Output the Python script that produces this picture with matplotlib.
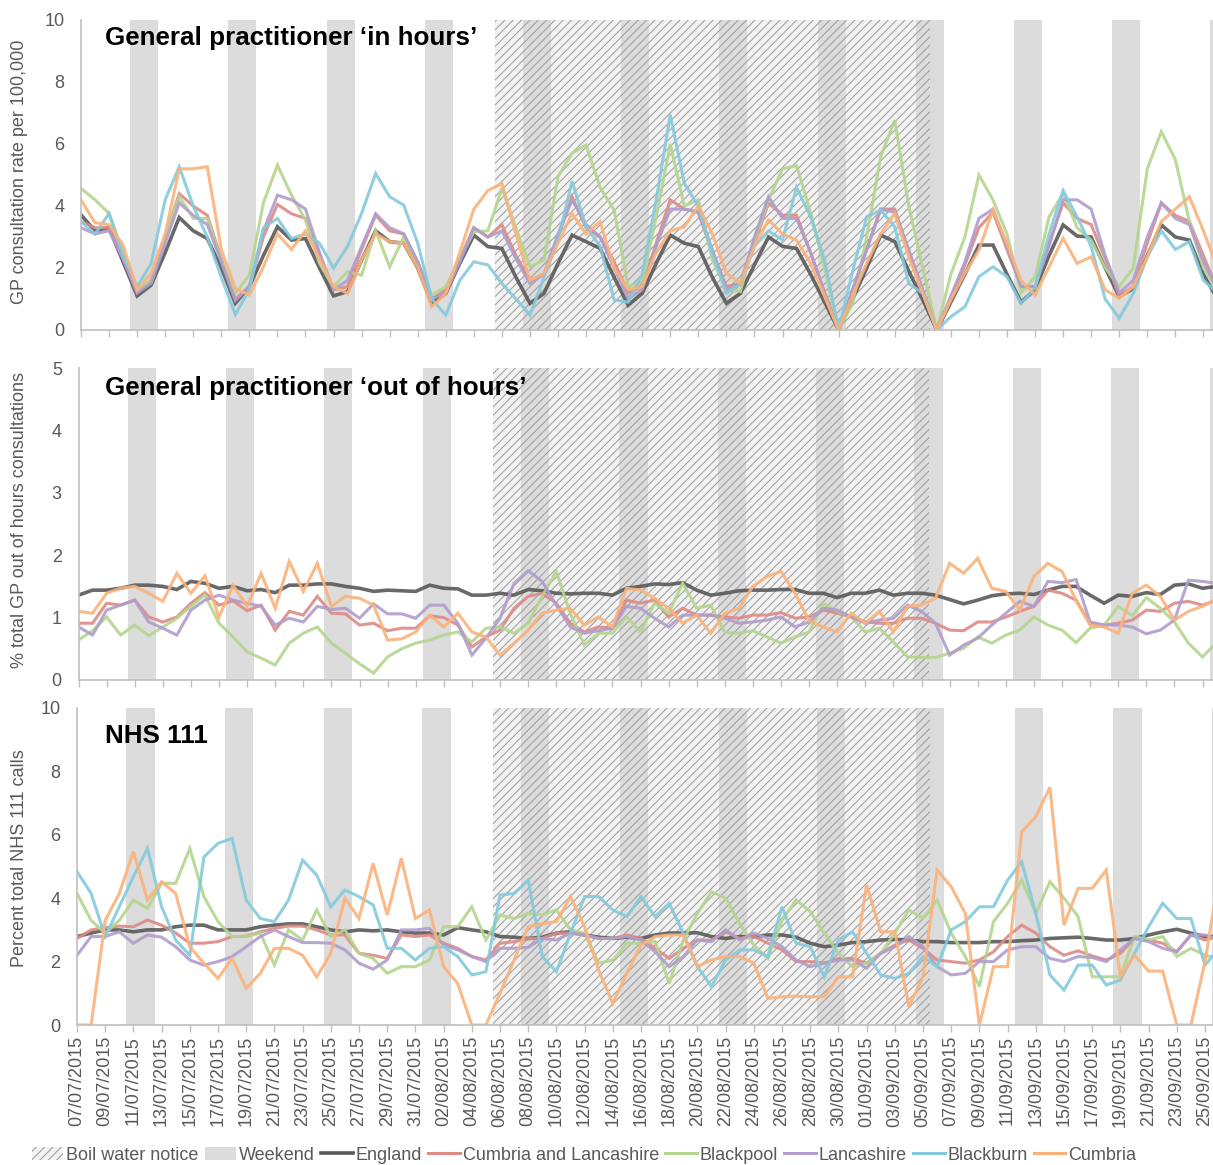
import matplotlib
matplotlib.use('Agg')
import matplotlib.pyplot as plt
from matplotlib.patches import Patch
from matplotlib.lines import Line2D
import numpy as np
import pandas as pd

plt.rcParams['font.family'] = ['Liberation Sans', 'DejaVu Sans']
plt.rcParams['hatch.linewidth'] = 0.75

# ---------------- data ----------------
dates = pd.date_range('2015-07-07', '2015-09-26', freq='D')
date_labels = [d.strftime('%d/%m/%Y') for d in dates]
boil_start = '2015-08-06'
boil_end = '2015-09-05'

series_names = ['England', 'Cumbria and Lancashire', 'Blackpool', 'Lancashire', 'Blackburn', 'Cumbria']
series_colors = ['#595959', '#DE8A85', '#B4D58E', '#B09DCC', '#84CADC', '#FBB27A']

# Panel 1: GP in hours (rate per 100,000)
gp_in_england = [3.71, 3.2, 3.3, 2.2, 1.1, 1.45, 2.5, 3.63, 3.2, 2.95, 2.0, 0.86, 1.4, 2.4, 3.33, 2.9, 2.95, 2.0, 1.1, 1.24,
                 2.25, 3.2, 2.85, 2.8, 2.0, 0.86, 1.18, 2.15, 3.06, 2.69, 2.63, 1.7, 0.86, 1.18, 2.15, 3.06, 2.85, 2.63, 1.7, 0.8,
                 1.18, 2.15, 3.06, 2.8, 2.69, 1.7, 0.86, 1.18, 2.1, 3.0, 2.7, 2.63, 1.8, 0.9, 0.0, 1.0, 2.0, 3.06, 2.85, 1.9,
                 0.97, 0.0, 0.9, 1.8, 2.74, 2.74, 1.8, 0.9, 1.3, 2.4, 3.39, 3.03, 3.0, 2.0, 1.08, 1.34, 2.4, 3.39, 3.0, 2.9,
                 1.8, 1.0]
gp_in_cumbria_lancs = [3.5, 3.3, 3.3, 2.3, 1.2, 1.6, 3.0, 4.4, 4.0, 3.7, 2.3, 1.0, 1.4, 3.0, 4.05, 3.75, 3.6, 2.4, 1.3, 1.4,
                       2.6, 3.7, 3.2, 3.1, 2.2, 1.0, 1.3, 2.3, 3.3, 3.0, 3.4, 2.4, 1.6, 1.8, 3.0, 4.3, 3.3, 3.0, 2.2, 1.2,
                       1.4, 2.8, 4.2, 3.9, 3.8, 2.5, 1.4, 1.5, 2.8, 4.1, 3.7, 3.7, 2.5, 1.2, 0.0, 1.3, 2.6, 3.9, 3.9, 2.5,
                       1.2, 0.0, 1.0, 2.1, 3.3, 3.8, 2.6, 1.4, 1.4, 2.8, 4.1, 3.6, 3.4, 2.3, 1.1, 1.4, 2.8, 4.1, 3.7, 3.5,
                       2.4, 1.3]
gp_in_blackpool = [4.57, 4.2, 3.76, 2.5, 1.3, 1.6, 3.0, 4.3, 3.6, 3.6, 2.25, 1.18, 1.77, 4.1, 5.32, 4.35, 3.55, 2.15, 1.4, 1.88,
                   1.77, 3.2, 2.04, 3.0, 2.15, 1.13, 1.4, 2.3, 3.17, 3.2, 4.57, 3.3, 2.04, 2.26, 4.95, 5.7, 5.97, 4.6, 3.87, 1.4,
                   1.56, 3.65, 6.0, 4.0, 4.2, 2.26, 1.3, 1.24, 2.9, 4.2, 5.2, 5.3, 3.8, 2.0, 0.0, 0.86, 3.0, 5.6, 6.77, 4.0,
                   2.0, 0.0, 1.8, 3.0, 5.0, 4.2, 3.1, 1.2, 1.7, 3.65, 4.4, 3.3, 2.9, 2.0, 1.4, 2.0, 5.2, 6.4, 5.5, 3.5,
                   2.0, 1.3]
gp_in_lancashire = [3.3, 3.1, 3.2, 2.3, 1.2, 1.5, 2.8, 4.1, 3.7, 3.4, 2.2, 0.95, 1.4, 3.2, 4.35, 4.2, 3.9, 2.5, 1.3, 1.6,
                    2.7, 3.75, 3.3, 3.1, 2.2, 1.0, 1.2, 2.2, 3.3, 3.0, 3.2, 2.3, 1.5, 1.8, 3.1, 4.2, 3.4, 3.0, 2.0, 1.0,
                    1.3, 2.7, 3.9, 3.9, 3.8, 2.6, 1.3, 1.5, 3.0, 4.3, 3.6, 3.6, 2.5, 1.2, 0.0, 1.3, 2.6, 3.9, 3.8, 2.6,
                    1.3, 0.0, 1.1, 2.2, 3.6, 3.9, 2.7, 1.4, 1.4, 2.7, 4.2, 4.2, 3.9, 2.4, 1.2, 1.6, 3.0, 4.1, 3.6, 3.4,
                    2.2, 1.3]
gp_in_blackburn = [3.5, 3.1, 3.76, 2.4, 1.4, 2.15, 4.2, 5.27, 4.0, 3.0, 1.7, 0.5, 1.3, 3.3, 3.6, 2.95, 3.1, 2.8, 2.0, 2.7,
                   3.76, 5.05, 4.3, 4.03, 2.8, 1.0, 0.48, 1.6, 2.2, 2.1, 1.5, 1.0, 0.48, 1.7, 2.9, 4.8, 3.33, 2.7, 0.97, 0.9,
                   1.8, 4.2, 6.94, 4.73, 4.0, 2.47, 1.18, 1.5, 2.7, 3.2, 2.9, 4.6, 3.65, 2.26, 0.0, 1.9, 3.65, 3.87, 3.33, 1.5,
                   1.18, 0.0, 0.43, 0.75, 1.72, 2.04, 1.72, 0.86, 1.34, 3.1, 4.5, 3.65, 2.7, 1.0, 0.38, 1.18, 2.36, 3.2, 2.6, 2.85,
                   1.6, 1.2]
gp_in_cumbria = [4.2, 3.46, 3.4, 2.74, 1.3, 1.83, 3.1, 5.2, 5.2, 5.27, 2.6, 1.34, 1.13, 2.04, 3.1, 2.6, 3.2, 2.3, 1.4, 1.18,
                 2.26, 3.1, 2.85, 2.8, 2.0, 0.75, 1.18, 2.5, 3.9, 4.5, 4.73, 3.1, 1.6, 1.83, 2.8, 3.76, 3.1, 3.5, 2.0, 1.3,
                 1.4, 2.5, 3.2, 3.33, 4.0, 3.1, 1.83, 1.5, 2.7, 3.55, 3.1, 2.9, 2.15, 1.08, 0.0, 1.1, 2.15, 3.1, 3.76, 2.36,
                 1.18, 0.0, 0.97, 1.83, 2.58, 3.87, 2.8, 1.6, 1.13, 2.04, 2.96, 2.15, 2.36, 1.3, 1.02, 1.4, 2.36, 3.5, 3.9, 4.3,
                 3.2, 2.0]

# Panel 2: GP out of hours (% of consultations) - no Blackburn series
gp_ooh_england = [1.36, 1.44, 1.44, 1.47, 1.52, 1.52, 1.5, 1.45, 1.58, 1.55, 1.47, 1.5, 1.43, 1.45, 1.4, 1.52, 1.52, 1.54, 1.54, 1.5,
                  1.47, 1.42, 1.44, 1.43, 1.42, 1.52, 1.47, 1.46, 1.36, 1.36, 1.39, 1.36, 1.45, 1.43, 1.39, 1.38, 1.39, 1.39, 1.36, 1.47,
                  1.5, 1.54, 1.53, 1.56, 1.44, 1.36, 1.39, 1.43, 1.44, 1.44, 1.45, 1.45, 1.39, 1.39, 1.32, 1.39, 1.39, 1.44, 1.36, 1.39,
                  1.39, 1.36, 1.29, 1.22, 1.28, 1.35, 1.38, 1.39, 1.37, 1.44, 1.5, 1.5, 1.36, 1.23, 1.36, 1.34, 1.4, 1.37, 1.52, 1.54,
                  1.47, 1.5]
gp_ooh_cumbria_lancs = [0.91, 0.91, 1.23, 1.2, 1.28, 1.01, 0.93, 1.01, 1.23, 1.4, 1.2, 1.27, 1.11, 1.2, 0.8, 1.1, 1.04, 1.34, 1.07, 1.06,
                        0.88, 0.91, 0.79, 0.83, 0.83, 1.03, 1.0, 0.88, 0.53, 0.69, 0.8, 1.15, 1.34, 1.39, 1.23, 0.91, 0.77, 0.85, 0.83, 1.28,
                        1.23, 1.28, 1.01, 1.15, 1.04, 1.04, 1.01, 0.99, 1.04, 1.04, 1.08, 0.99, 1.01, 1.12, 1.07, 1.01, 0.93, 0.91, 0.91, 0.99,
                        0.99, 0.91, 0.8, 0.79, 0.93, 0.93, 1.01, 1.1, 1.18, 1.44, 1.39, 1.28, 0.91, 0.88, 0.91, 0.96, 1.12, 1.1, 1.23, 1.26,
                        1.2, 1.28]
gp_ooh_blackpool = [0.64, 0.79, 1.01, 0.72, 0.88, 0.71, 0.85, 0.99, 1.18, 1.36, 0.91, 0.69, 0.45, 0.35, 0.24, 0.59, 0.75, 0.85, 0.59, 0.43,
                    0.26, 0.11, 0.37, 0.5, 0.59, 0.64, 0.72, 0.77, 0.61, 0.83, 0.85, 0.75, 0.91, 1.34, 1.74, 1.07, 0.56, 0.75, 0.75, 1.01,
                    0.77, 1.23, 1.07, 1.55, 1.15, 1.2, 0.76, 0.75, 0.79, 0.69, 0.59, 0.69, 0.77, 1.23, 1.1, 1.01, 0.77, 0.83, 0.61, 0.37,
                    0.36, 0.36, 0.43, 0.51, 0.69, 0.59, 0.72, 0.8, 1.01, 0.88, 0.8, 0.6, 0.83, 0.88, 1.18, 1.03, 1.32, 1.15, 0.93, 0.59,
                    0.37, 0.6]
gp_ooh_lancashire = [0.85, 0.72, 1.12, 1.2, 1.28, 0.93, 0.83, 0.72, 1.12, 1.28, 1.36, 1.28, 1.23, 1.18, 0.88, 0.99, 0.93, 1.18, 1.13, 1.15,
                     0.99, 1.22, 1.06, 1.06, 0.99, 1.2, 1.2, 0.91, 0.4, 0.67, 0.99, 1.55, 1.75, 1.58, 1.2, 0.85, 0.75, 0.79, 0.83, 1.18,
                     1.15, 0.99, 0.85, 1.04, 1.04, 1.04, 0.99, 0.91, 0.93, 0.96, 1.01, 0.85, 0.93, 1.15, 1.12, 1.01, 0.91, 0.96, 0.99, 1.2,
                     1.1, 0.91, 0.4, 0.56, 0.67, 0.88, 1.07, 1.26, 1.18, 1.58, 1.56, 1.61, 0.93, 0.88, 0.88, 0.85, 0.74, 0.8, 0.96, 1.6,
                     1.58, 1.55]
gp_ooh_cumbria = [1.1, 1.07, 1.39, 1.47, 1.5, 1.39, 1.26, 1.71, 1.39, 1.67, 1.01, 1.52, 1.18, 1.71, 1.15, 1.9, 1.42, 1.87, 1.18, 1.34,
                  1.31, 1.2, 0.64, 0.66, 0.77, 1.04, 0.85, 1.07, 0.77, 0.69, 0.4, 0.59, 0.8, 1.07, 1.12, 1.15, 0.88, 1.01, 0.85, 1.47,
                  1.44, 1.31, 1.15, 0.91, 1.04, 0.75, 1.07, 1.15, 1.5, 1.66, 1.74, 1.39, 0.95, 0.85, 0.77, 1.07, 0.91, 1.1, 0.77, 1.18,
                  1.2, 1.31, 1.87, 1.71, 1.95, 1.47, 1.42, 1.12, 1.66, 1.87, 1.74, 1.28, 0.88, 0.85, 0.75, 1.39, 1.52, 1.34, 0.96, 1.1,
                  1.18, 1.3]

# Panel 3: NHS 111 (% of calls)
nhs_england = [2.79, 2.9, 3.0, 3.0, 2.94, 3.0, 3.0, 3.1, 3.15, 3.15, 3.0, 3.0, 3.0, 3.1, 3.15, 3.19, 3.19, 3.1, 3.0, 2.94,
               3.0, 2.97, 3.0, 2.94, 2.9, 2.9, 2.84, 3.07, 3.0, 2.94, 2.79, 2.77, 2.73, 2.77, 2.9, 2.94, 2.84, 2.77, 2.73, 2.77,
               2.73, 2.84, 2.9, 2.9, 2.91, 2.79, 2.73, 2.79, 2.79, 2.84, 2.84, 2.77, 2.58, 2.47, 2.52, 2.6, 2.63, 2.68, 2.7, 2.68,
               2.63, 2.63, 2.6, 2.6, 2.6, 2.63, 2.63, 2.66, 2.68, 2.73, 2.75, 2.77, 2.73, 2.68, 2.68, 2.73, 2.84, 2.94, 3.02, 2.9,
               2.79, 2.8]
nhs_cumbria_lancs = [2.73, 3.0, 3.07, 3.12, 3.1, 3.31, 3.15, 2.9, 2.58, 2.58, 2.63, 2.79, 2.8, 2.94, 3.05, 3.12, 3.12, 3.0, 2.84, 2.84,
                     2.26, 2.2, 2.1, 2.84, 2.79, 2.84, 2.58, 2.42, 2.16, 2.05, 2.58, 2.63, 2.73, 2.73, 2.9, 2.9, 2.84, 2.73, 2.73, 2.84,
                     2.73, 2.42, 2.1, 2.42, 2.68, 2.68, 2.94, 2.73, 2.79, 2.58, 2.37, 2.0, 2.0, 1.95, 2.1, 2.1, 1.95, 2.26, 2.52, 2.68,
                     2.42, 2.05, 2.0, 1.95, 2.05, 2.31, 2.79, 3.15, 2.9, 2.47, 2.2, 2.34, 2.18, 2.05, 2.26, 2.73, 2.68, 2.58, 2.31, 2.84,
                     2.68, 2.8]
nhs_blackpool = [4.15, 3.3, 2.9, 3.3, 3.94, 3.68, 4.47, 4.47, 5.57, 4.05, 3.26, 2.79, 2.79, 2.9, 1.89, 3.0, 2.68, 3.63, 2.79, 3.0,
                 2.26, 2.1, 1.63, 1.84, 1.84, 2.05, 3.1, 3.1, 3.73, 2.68, 3.47, 3.36, 3.52, 3.47, 3.63, 3.0, 2.89, 1.95, 2.05, 2.58,
                 2.58, 2.63, 1.31, 2.68, 3.52, 4.2, 4.0, 3.2, 2.52, 2.1, 3.3, 3.94, 3.58, 2.9, 2.26, 1.84, 1.95, 2.26, 2.9, 3.63,
                 3.36, 3.94, 2.9, 2.16, 1.21, 3.26, 3.84, 4.57, 3.52, 4.52, 4.0, 3.42, 1.52, 1.52, 1.52, 2.79, 2.68, 2.79, 2.16, 2.42,
                 2.2, 2.1]
nhs_lancashire = [2.2, 2.79, 2.79, 2.94, 2.58, 2.84, 2.77, 2.47, 2.05, 1.89, 2.0, 2.16, 2.47, 2.79, 3.0, 2.79, 2.6, 2.6, 2.58, 2.37,
                  1.95, 1.76, 2.05, 3.0, 3.0, 3.05, 2.52, 2.37, 2.16, 2.0, 2.42, 2.42, 2.45, 2.73, 2.68, 2.9, 2.84, 2.73, 2.73, 2.79,
                  2.68, 2.31, 1.84, 2.16, 2.68, 2.63, 3.0, 2.68, 2.9, 2.73, 2.47, 2.05, 1.84, 1.95, 2.05, 2.05, 1.79, 2.26, 2.47, 2.79,
                  2.47, 1.84, 1.58, 1.63, 2.0, 2.0, 2.37, 2.47, 2.47, 2.1, 2.0, 2.16, 2.13, 2.0, 2.37, 2.73, 2.63, 2.42, 2.31, 2.84,
                  2.84, 2.7]
nhs_blackburn = [4.84, 4.15, 2.79, 3.73, 4.68, 5.57, 3.73, 2.68, 2.2, 5.3, 5.73, 5.89, 3.94, 3.36, 3.26, 3.94, 5.2, 4.73, 3.73, 4.26,
                 4.05, 3.79, 2.42, 2.42, 2.05, 2.42, 2.47, 2.16, 1.58, 1.68, 4.1, 4.15, 4.57, 2.16, 1.68, 2.89, 4.05, 4.05, 3.63, 3.42,
                 4.05, 3.42, 3.84, 2.89, 1.84, 1.21, 2.05, 2.37, 2.37, 2.16, 3.73, 2.58, 2.47, 1.52, 2.68, 2.94, 2.26, 1.58, 1.47, 1.63,
                 2.16, 1.84, 3.0, 3.26, 3.73, 3.73, 4.57, 5.15, 3.52, 1.58, 1.1, 1.89, 1.89, 1.26, 1.42, 2.26, 3.1, 3.84, 3.36, 3.36,
                 1.89, 2.4]
nhs_cumbria = [0.0, 0.0, 3.3, 4.15, 5.47, 3.94, 4.52, 4.15, 2.47, 1.95, 1.47, 2.1, 1.16, 1.63, 2.42, 2.42, 2.2, 1.52, 2.26, 4.0,
               3.36, 5.1, 3.47, 5.26, 3.36, 3.63, 1.84, 1.31, 0.0, 0.0, 1.0, 2.05, 3.1, 3.2, 3.26, 4.05, 3.1, 1.73, 0.68, 1.63,
               2.52, 2.79, 2.84, 2.84, 1.84, 2.05, 2.16, 2.16, 1.95, 0.84, 0.89, 0.91, 0.89, 0.89, 1.52, 1.52, 4.42, 2.94, 2.94, 0.58,
               1.52, 4.89, 4.36, 3.52, 0.0, 1.84, 1.84, 6.1, 6.57, 7.5, 3.15, 4.31, 4.31, 4.89, 1.52, 2.2, 1.7, 1.7, 0.0, 0.0,
               2.0, 4.7]

panels = [
    dict(title='General practitioner \u2018in hours\u2019', ylabel='GP consultation rate per 100,000',
         ymax=10, ystep=2, series=[gp_in_england, gp_in_cumbria_lancs, gp_in_blackpool, gp_in_lancashire, gp_in_blackburn, gp_in_cumbria],
         left=81, top=20, bottom=330, spacing=14.03, title_y=38, ylab_y=172),
    dict(title='General practitioner \u2018out of hours\u2019', ylabel='% total GP out of hours consultations',
         ymax=5, ystep=1, series=[gp_ooh_england, gp_ooh_cumbria_lancs, gp_ooh_blackpool, gp_ooh_lancashire, None, gp_ooh_cumbria],
         left=78.5, top=368, bottom=680, spacing=14.05, title_y=388, ylab_y=520),
    dict(title='NHS 111', ylabel='Percent total NHS 111 calls',
         ymax=10, ystep=2, series=[nhs_england, nhs_cumbria_lancs, nhs_blackpool, nhs_lancashire, nhs_blackburn, nhs_cumbria],
         left=77, top=708, bottom=1025, spacing=14.1, title_y=736, ylab_y=858),
]

W, H = 1213, 1165
fig = plt.figure(figsize=(W / 100, H / 100), dpi=100)

n = len(dates)
xi = np.arange(n)
b0 = dates.get_loc(pd.Timestamp(boil_start))
b1 = dates.get_loc(pd.Timestamp(boil_end))
axis_col = '#BFBFBF'
text_col = '#595959'
hatch_col = '#9E9E9E'
hatch_bg = '#F2F2F2'
weekend_col = '#DCDCDC'

for k, p in enumerate(panels):
    ax = fig.add_axes([p['left'] / W, 1 - p['bottom'] / H, (W - p['left']) / W, (p['bottom'] - p['top']) / H])
    ax.set_xlim(0, (W - p['left']) / p['spacing'])
    ax.set_ylim(0, p['ymax'])
    # backgrounds
    ax.axvspan(b0 - 0.5, b1 + 0.5, facecolor=hatch_bg, edgecolor='none', lw=0, zorder=0)
    for i, d in enumerate(dates):
        if d.weekday() == 5:
            ax.axvspan(i - 0.5, i + 1.5, facecolor=weekend_col, edgecolor='none', lw=0, zorder=0.5)
    ax.axvspan(b0 - 0.5, b1 + 0.5, facecolor='none', edgecolor=hatch_col, hatch='////', lw=0, zorder=0.8)
    # lines
    for name, col, vals in zip(series_names, series_colors, p['series']):
        if vals is None:
            continue
        lw = 2.6 if name == 'England' else 2.2
        ax.plot(xi, vals, color=col, lw=lw, alpha=0.9, zorder=3, solid_joinstyle='miter')
    for s in ['top', 'right']:
        ax.spines[s].set_visible(False)
    for s in ['left', 'bottom']:
        ax.spines[s].set_color(axis_col)
        ax.spines[s].set_linewidth(1.2)
        ax.spines[s].set_zorder(4)
    ax.set_yticks(np.arange(0, p['ymax'] + 0.01, p['ystep']))
    ax.tick_params(axis='y', length=0, pad=12, labelsize=13, labelcolor=text_col)
    ax.set_xticks(xi[::2])
    ax.tick_params(axis='x', length=5, width=1, color=axis_col, direction='out', labelsize=13, labelcolor=text_col, pad=3)
    if k == 2:
        ax.set_xticklabels(date_labels[::2], rotation=90)
    else:
        ax.set_xticklabels([])
    ax.text((105 - p['left']) / (W - p['left']), (p['bottom'] - p['title_y']) / (p['bottom'] - p['top']),
            p['title'], transform=ax.transAxes, fontsize=18.7, fontweight='bold', color='black',
            ha='left', va='center', zorder=5)
    fig.text(20 / W, 1 - p['ylab_y'] / H, p['ylabel'], rotation=90, ha='center', va='center',
             fontsize=13, color=text_col)

handles = [Patch(facecolor=hatch_bg, edgecolor=hatch_col, hatch='////', lw=0, label='Boil water notice'),
           Patch(facecolor=weekend_col, edgecolor='none', label='Weekend')]
for name, col in zip(series_names, series_colors):
    handles.append(Line2D([0], [0], color=col, lw=2.6 if name == 'England' else 2.2, label=name))
fig.legend(handles=handles, loc='center', bbox_to_anchor=(584 / W, 1 - 1155 / H), ncol=8, frameon=False,
           fontsize=13, labelcolor=text_col, handlelength=1.75, handletextpad=0.15, columnspacing=0.35,
           handleheight=0.7, borderpad=0.2)

fig.savefig('out.png', dpi=100)
